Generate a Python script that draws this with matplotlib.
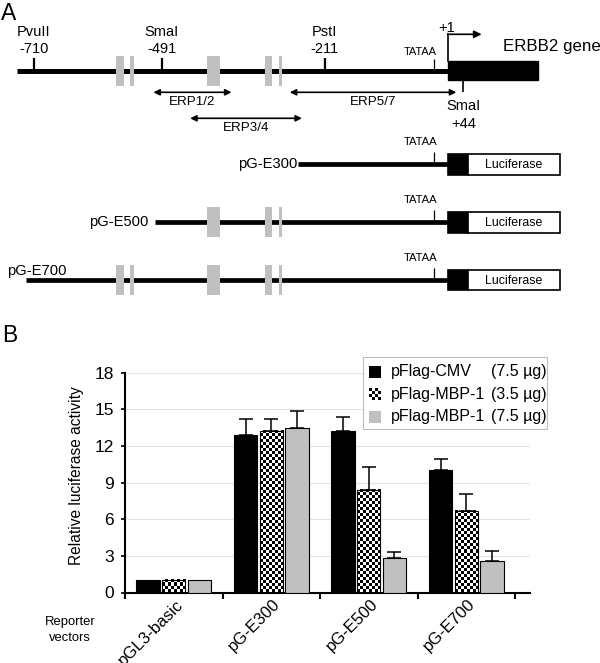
import numpy as np
import matplotlib
matplotlib.use('Agg')
import matplotlib.pyplot as plt
from matplotlib.patches import Rectangle

plt.rcParams['font.family'] = ['Liberation Sans', 'DejaVu Sans']

# ---------------- panel A: promoter map (positions in bp from +1) ----------------
sites = ['PvuII', 'SmaI', 'PstI']
site_pos = [-710, -491, -211]
tata_pos = -23
sma_end_pos = 27          # SmaI +44, the gene box is not to scale
promoter_start = -740
elements = [(-569, -556), (-545, -539), (-413, -391), (-314, -302), (-290, -284)]
erp_names = ['ERP1/2', 'ERP3/4', 'ERP5/7']
erp_spans = [(-505, -371), (-442, -250), (-271, 15)]
constructs = ['pG-E300', 'pG-E500', 'pG-E700']
construct_start = [-256, -502, -724]

# ---------------- panel B: luciferase assay ----------------
vectors = ['pGL3-basic', 'pG-E300', 'pG-E500', 'pG-E700']
series = ['pFlag-CMV', 'pFlag-MBP-1', 'pFlag-MBP-1']
amounts = ['(7.5 µg)', '(3.5 µg)', '(7.5 µg)']
cmv = [1.0, 12.9, 13.2, 10.0]
cmv_err = [0, 1.3, 1.2, 0.9]
mbp_low = [1.0, 13.2, 8.4, 6.7]
mbp_low_err = [0, 1.0, 1.9, 1.4]
mbp_high = [1.0, 13.5, 2.8, 2.6]
mbp_high_err = [0, 1.4, 0.5, 0.8]

W, H = 600, 663
GRAY = '#c0c0c0'
fig = plt.figure(figsize=(W / 100, H / 100), dpi=100)

# diagram axes: x in bp, y in pixels from top
ax_a = fig.add_axes([0, 0, 1, 1])
ax_a.set_xlim(-768.4, 261.6)
ax_a.set_ylim(H, 0)
ax_a.axis('off')

main_y = 71
ax_a.plot([promoter_start, 1], [main_y, main_y], color='k', lw=3.6, solid_capstyle='butt', zorder=2)
ax_a.add_patch(Rectangle((1, 61), 154.5, 19, fc='k', ec='k', zorder=3))
for s, e in elements:
    ax_a.add_patch(Rectangle((s, main_y - 15), e - s, 30, fc=GRAY, ec='none', zorder=3))
ax_a.vlines(site_pos, 58.3, main_y, color='k', lw=1.6)
for name, p in zip(sites, site_pos):
    ax_a.text(p, 31.7, name, ha='center', va='center', fontsize=10.5)
    ax_a.text(p, 49.3, str(p), ha='center', va='center', fontsize=10.5)
ax_a.vlines(tata_pos, 59.3, main_y, color='k', lw=0.9)
ax_a.text(tata_pos + 4, 51.7, 'TATAA', ha='right', va='center', fontsize=8)

# transcription start arrow
ax_a.plot([1, 1], [61, 34.3], color='k', lw=1.2)
ax_a.annotate('', xy=(58.4, 34.3), xytext=(0.2, 34.3),
              arrowprops=dict(arrowstyle='-|>', lw=1.2, color='k', mutation_scale=11,
                              shrinkA=0, shrinkB=0))
ax_a.text(-2, 28.3, '+1', ha='center', va='center', fontsize=10.5)
ax_a.text(95.4, 46.7, 'ERBB2 gene', ha='left', va='center', fontsize=12.2)

ax_a.vlines(sma_end_pos, 80, 91.7, color='k', lw=1.2)
ax_a.text(sma_end_pos, 106, 'SmaI', ha='center', va='center', fontsize=10.5)
ax_a.text(sma_end_pos, 124, '+44', ha='center', va='center', fontsize=10.5)

for name, (s, e), y in zip(erp_names, erp_spans, [92.3, 118.3, 92.3]):
    ax_a.annotate('', xy=(e, y), xytext=(s, y),
                  arrowprops=dict(arrowstyle='<|-|>', lw=1.2, color='k', mutation_scale=9,
                                  shrinkA=0, shrinkB=0))
    ax_a.text((s + e) / 2, y + 10, name, ha='center', va='center', fontsize=9.6)

# reporter constructs
construct_y = [164.3, 222.3, 280]
for name, start, y in zip(constructs, construct_start, construct_y):
    ax_a.plot([start, 1], [y, y], color='k', lw=3.4, solid_capstyle='butt', zorder=2)
    for s, e in elements:
        if s > start:
            ax_a.add_patch(Rectangle((s, y - 15), e - s, 30, fc=GRAY, ec='none', zorder=3))
    ax_a.add_patch(Rectangle((1, y - 10.25), 33.3, 20.5, fc='k', ec='k', lw=1.2, zorder=3))
    ax_a.add_patch(Rectangle((34.3, y - 10.25), 158.5, 20.5, fc='white', ec='k', lw=1.2, zorder=3))
    ax_a.text(113.5, y + 0.5, 'Luciferase', ha='center', va='center', fontsize=8.9, zorder=4)
    ax_a.vlines(tata_pos, y - 12.5, y, color='k', lw=0.9)
    ax_a.text(tata_pos + 6, y - 22, 'TATAA', ha='right', va='center', fontsize=8.1)
ax_a.text(construct_start[0] - 2, construct_y[0], constructs[0], ha='right', va='center', fontsize=10.6)
ax_a.text(construct_start[1] - 11.5, construct_y[1], constructs[1], ha='right', va='center', fontsize=10.6)
ax_a.text(-756.6, 271, constructs[2], ha='left', va='center', fontsize=10.6)

# ---------------- bar chart ----------------
left, right, bottom, top = 125, 530, 592.5, 372.7
ax = fig.add_axes([left / W, (H - bottom) / H, (right - left) / W, (bottom - top) / H])
ax.set_zorder(2)
cat_w = 97.5
xlim = (-0.5, -0.5 + (right - left) / cat_w)
ax.set_xlim(*xlim)
ax.set_ylim(0, 18)

x = np.arange(len(vectors))
bw, off = 0.241, 0.262
ax.bar(x - off, cmv, bw, color='k', edgecolor='k', lw=0.8, zorder=3)
chk = ax.bar(x, mbp_low, bw, color='none', edgecolor='k', lw=0.8, zorder=4)
ax.bar(x + off, mbp_high, bw, color=GRAY, edgecolor='k', lw=0.8, zorder=3)

# checkerboard fill (about 3 px squares)
for b in chk:
    x0, h, w = b.get_x(), b.get_height(), b.get_width()
    p0 = ax.transData.transform((x0, 0))
    p1 = ax.transData.transform((x0 + w, h))
    nx = max(1, int(round((p1[0] - p0[0]) / 3.0)))
    ny = max(1, int(round((p1[1] - p0[1]) / 3.0)))
    board = np.add.outer(np.arange(ny), np.arange(nx)) % 2
    ax.imshow(board, cmap='gray', extent=(x0, x0 + w, 0, h), origin='lower',
              interpolation='nearest', aspect='auto', zorder=3)

for vals, errs, dx in [(cmv, cmv_err, -off), (mbp_low, mbp_low_err, 0), (mbp_high, mbp_high_err, off)]:
    idx = [i for i, e in enumerate(errs) if e > 0]
    ax.errorbar(x[idx] + dx, [vals[i] for i in idx],
                yerr=[np.zeros(len(idx)), [errs[i] for i in idx]],
                fmt='none', ecolor='k', elinewidth=1.1, capsize=5, capthick=1.1, zorder=5)

ax.set_xlim(*xlim)
ax.set_ylim(0, 18)
ax.set_yticks(np.arange(0, 19, 3))
ax.set_xticks(np.arange(-0.5, len(vectors), 1))
ax.set_xticklabels([])
ax.tick_params(axis='x', direction='out', length=4, width=1.5)
ax.tick_params(axis='y', direction='out', length=3, width=1.2, labelsize=12.5, pad=5)
for s in ['top', 'right']:
    ax.spines[s].set_visible(False)
for s in ['left', 'bottom']:
    ax.spines[s].set_linewidth(1.5)
ax.yaxis.grid(True, color='#e2e2e2', lw=0.8)
ax.set_axisbelow(True)
ax.set_ylabel('Relative luciferase activity', fontsize=11.2)
ax.yaxis.set_label_coords(-0.101, 0.53)

for i, name in enumerate(vectors):
    ax.annotate(name, xy=(i, 0), xycoords=('data', 'axes fraction'), xytext=(1, -3),
                textcoords='offset points', rotation=45, ha='right', va='top',
                rotation_mode='anchor', fontsize=12)

# ---------------- legend and labels (pixel coordinates) ----------------
ax_l = fig.add_axes([0, 0, 1, 1])
ax_l.set_zorder(5)
ax_l.patch.set_visible(False)
ax_l.set_xlim(0, W)
ax_l.set_ylim(H, 0)
ax_l.axis('off')

ax_l.add_patch(Rectangle((362.7, 356.7), 184.6, 72.3, fc='white', ec='#bdbdbd', lw=0.8, zorder=1))
rows = [371.7, 394.5, 416.7]
ax_l.add_patch(Rectangle((368.5, rows[0] - 6), 12, 12, fc='k', ec='none', zorder=2))
board = np.add.outer(np.arange(4), np.arange(4)) % 2
ax_l.imshow(board, cmap='gray', extent=(368.5, 380.5, rows[1] + 6, rows[1] - 6),
            interpolation='nearest', aspect='auto', zorder=3)
ax_l.add_patch(Rectangle((368.5, rows[2] - 6), 12, 12, fc=GRAY, ec='none', zorder=2))
for name, amt, y in zip(series, amounts, rows):
    ax_l.text(390.7, y, name, ha='left', va='center', fontsize=11.5, zorder=4)
    ax_l.text(490.7, y, amt, ha='left', va='center', fontsize=11.5, zorder=4)
ax_l.set_xlim(0, W)
ax_l.set_ylim(H, 0)

ax_l.text(70, 630, 'Reporter\nvectors', ha='center', va='center', fontsize=9.4,
          multialignment='center', linespacing=1.35)
ax_l.text(1, 13, 'A', ha='left', va='center', fontsize=16.5)
ax_l.text(2, 335, 'B', ha='left', va='center', fontsize=16.5)

fig.savefig('out.png', dpi=100)
